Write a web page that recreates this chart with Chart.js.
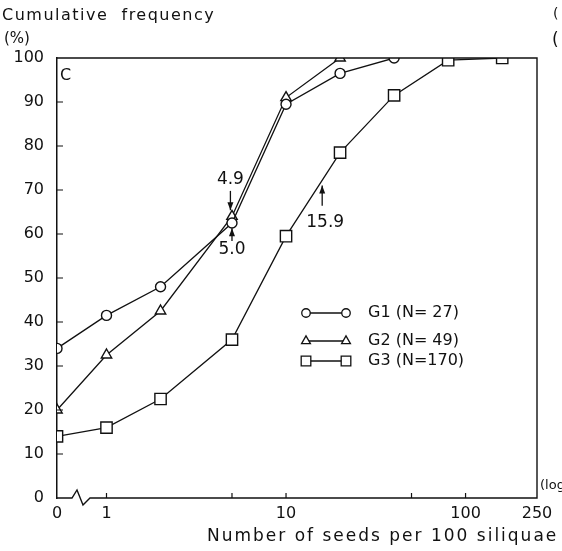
<!DOCTYPE html>
<html>
<head>
<meta charset="utf-8">
<script src="https://cdn.jsdelivr.net/npm/chart.js@4.4.1/dist/chart.umd.min.js"></script>
<style>
  html, body { margin: 0; background: #fff; }
  #wrap { width: 562px; height: 551px; }
</style>
</head>
<body>
<div id="wrap"><canvas id="chart"></canvas></div>
<script>
// Seeds per 100 siliquae (bin), cumulative frequency (%) per group
const seedBins = [0, 1, 2, 5, 10, 20, 40, 80, 160];
const g1Freq = [34, 41.5, 48, 62.5, 89.5, 96.5, 100];
const g2Freq = [20, 32.5, 42.5, 64, 91, 100];
const g3Freq = [14, 16, 22.5, 36, 59.5, 78.5, 91.5, 99.5, 100];
const groupLabels = ['G1 (N= 27)', 'G2 (N= 49)', 'G3 (N=170)'];
const groupStyles = ['circle', 'triangle', 'rect'];

const xTickValues = [0, 1, 10, 100, 250];
const xMinorTicks = [1, 5, 10, 50, 100];
const yTickValues = [0, 10, 20, 30, 40, 50, 60, 70, 80, 90, 100];

// medians marked with arrows: value, arrow from/to (%), label y (%)
const medianValues = [4.9, 5.0, 15.9];
const medianArrows = [[69.8, 65.4], [58.4, 61.3], [66.4, 71]];
const medianLabelY = [72.3, 56.4, 62.6];

const INK = '#111';
const FONT = '"DejaVu Sans", sans-serif';
const ZERO_AT = 0.53; // where the "0" bin sits left of the axis break

const toPoints = vals => vals.map((v, i) => ({ x: seedBins[i] === 0 ? ZERO_AT : seedBins[i], y: v }));
const series = [g1Freq, g2Freq, g3Freq];
const radii = [5, 6, 8];

const datasets = series.map((vals, i) => ({
  label: groupLabels[i],
  data: toPoints(vals),
  borderColor: INK,
  borderWidth: 1.3,
  pointStyle: groupStyles[i],
  pointRadius: radii[i],
  pointBorderWidth: 1.4,
  pointBackgroundColor: '#fff',
  pointBorderColor: INK,
  tension: 0
}));

const drawArrow = (ctx, x, y1, y2) => {
  ctx.beginPath();
  ctx.moveTo(x, y1);
  ctx.lineTo(x, y2);
  ctx.stroke();
  const d = y2 > y1 ? 1 : -1;
  ctx.beginPath();
  ctx.moveTo(x, y2);
  ctx.lineTo(x - 3, y2 - d * 8);
  ctx.lineTo(x + 3, y2 - d * 8);
  ctx.closePath();
  ctx.fill();
};

const extras = {
  id: 'extras',
  afterDraw(chart) {
    const { ctx, chartArea: a, scales: { x, y } } = chart;
    ctx.save();
    ctx.strokeStyle = INK;
    ctx.fillStyle = INK;
    ctx.lineWidth = 1.4;

    // frame: top, right, bottom with axis break
    const b = a.bottom;
    ctx.beginPath();
    ctx.moveTo(a.left, a.top);
    ctx.lineTo(a.right, a.top);
    ctx.lineTo(a.right, b);
    ctx.lineTo(a.left + 33, b);
    ctx.lineTo(a.left + 26, b + 7);
    ctx.lineTo(a.left + 20, b - 8);
    ctx.lineTo(a.left + 15, b);
    ctx.lineTo(a.left, b);
    ctx.stroke();

    // inward ticks
    ctx.lineWidth = 1.2;
    ctx.beginPath();
    yTickValues.slice(1, -1).forEach(v => {
      const py = y.getPixelForValue(v);
      ctx.moveTo(a.left, py);
      ctx.lineTo(a.left + 6, py);
    });
    xMinorTicks.forEach(v => {
      const px = x.getPixelForValue(v);
      ctx.moveTo(px, b);
      ctx.lineTo(px, b - 5);
    });
    ctx.stroke();

    // median arrows
    ctx.lineWidth = 1.3;
    ctx.textAlign = 'center';
    ctx.textBaseline = 'middle';
    ctx.font = '17px ' + FONT;
    medianValues.forEach((m, i) => {
      const px = x.getPixelForValue(m);
      drawArrow(ctx, px, y.getPixelForValue(medianArrows[i][0]), y.getPixelForValue(medianArrows[i][1]));
      const lx = i === 2 ? px + 3 : px;
      ctx.fillText(m.toFixed(1), lx, y.getPixelForValue(medianLabelY[i]));
    });

    // legend
    const rows = [313, 341, 361];
    ctx.font = '16px ' + FONT;
    ctx.textAlign = 'left';
    rows.forEach((ry, i) => {
      ctx.strokeStyle = INK;
      ctx.lineWidth = 1.3;
      ctx.beginPath();
      ctx.moveTo(306, ry);
      ctx.lineTo(346, ry);
      ctx.stroke();
      [306, 346].forEach(px => {
        ctx.fillStyle = '#fff';
        Chart.helpers.drawPoint(ctx, { pointStyle: groupStyles[i], radius: radii[i] * 0.85, rotation: 0, borderWidth: 1.3 }, px, ry);
      });
      ctx.fillStyle = INK;
      ctx.fillText(groupLabels[i], 368, ry);
    });

    // texts
    ctx.textBaseline = 'alphabetic';
    ctx.letterSpacing = '1.5px';
    ctx.font = '16px ' + FONT;
    ctx.fillText('Cumulative  frequency', 2, 20);
    ctx.letterSpacing = '2px';
    ctx.font = '17px ' + FONT;
    ctx.fillText('Number of seeds per 100 siliquae', 207, 541);
    ctx.letterSpacing = '0px';
    ctx.font = '15px ' + FONT;
    ctx.fillText('(%)', 4, 43);
    ctx.font = '13px ' + FONT;
    ctx.fillText('(log', a.right + 3, b - 9);
    ctx.font = '16px ' + FONT;
    ctx.fillText('C', a.left + 3, a.top + 22);
    // clipped marks of the neighbouring panel
    ctx.font = '14px ' + FONT;
    ctx.fillText('(', 553, 18);
    ctx.font = '17px ' + FONT;
    ctx.fillText('(', 552, 45);
    ctx.restore();
  }
};

new Chart(document.getElementById('chart'), {
  type: 'line',
  data: { datasets },
  options: {
    responsive: true,
    maintainAspectRatio: false,
    animation: false,
    layout: { padding: { top: 58, right: 25, left: 0, bottom: 0 } },
    plugins: { legend: { display: false }, tooltip: { enabled: false } },
    scales: {
      x: {
        type: 'logarithmic',
        min: ZERO_AT,
        max: 250,
        afterBuildTicks: s => { s.ticks = xTickValues.map(v => ({ value: v === 0 ? ZERO_AT : v })); },
        afterFit: s => { s.height = 53; },
        ticks: {
          autoSkip: false,
          maxRotation: 0,
          padding: 6,
          color: INK,
          font: { family: FONT, size: 16 },
          callback: v => (v === ZERO_AT ? '0' : String(v))
        },
        grid: { display: false, drawTicks: false },
        border: { display: false }
      },
      y: {
        min: 0,
        max: 100,
        afterBuildTicks: s => { s.ticks = yTickValues.map(v => ({ value: v })); },
        afterFit: s => { s.width = 57; },
        ticks: { padding: 13, color: INK, font: { family: FONT, size: 16 } },
        grid: { display: false, drawTicks: false },
        border: { display: true, color: INK, width: 1.5 }
      }
    }
  },
  plugins: [extras]
});
</script>
</body>
</html>
